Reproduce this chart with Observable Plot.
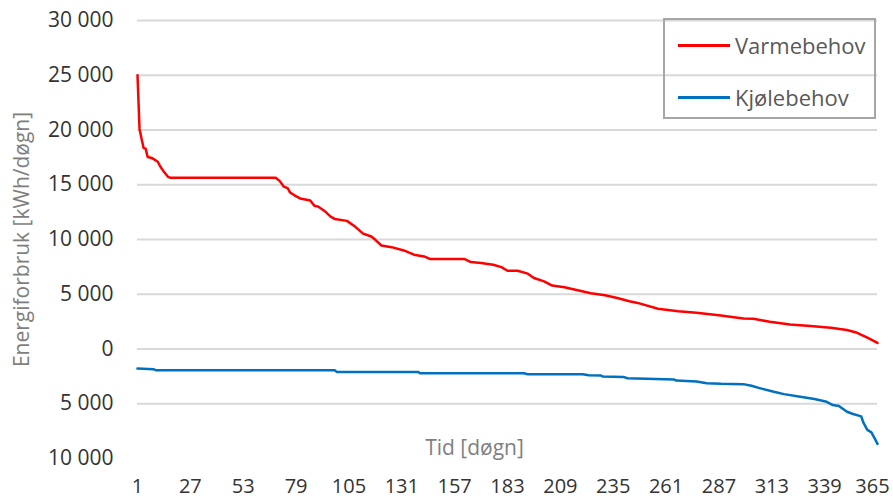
<!DOCTYPE html>
<html>
<head>
<meta charset="utf-8">
<script src="https://cdn.jsdelivr.net/npm/d3@7"></script>
<script src="https://cdn.jsdelivr.net/npm/@observablehq/plot@0.6"></script>
<style>
  html, body { margin: 0; padding: 0; background: #fff; }
  #wrap { position: relative; width: 893px; height: 499px; font-family: "Open Sans", sans-serif; overflow: hidden; }
  #legend { position: absolute; left: 663px; top: 18px; width: 213px; height: 101px;
            border: 2px solid #a6a6a6; box-sizing: border-box; }
  .item { position: absolute; left: 13px; display: flex; align-items: center; height: 30px;
          font-size: 22px; color: #595959; }
  .swatch { width: 52px; height: 3px; margin-right: 5px; }
</style>
</head>
<body>
<div id="wrap"></div>
<script>
// ---- data ----
const seriesNames = ["Varmebehov", "Kjølebehov"];
const seriesColors = ["#ff0000", "#0070c0"];

const heatDays = [1,2,3,4,5,6,8,11,12,14,16,17,69,71,73,75,76,78,81,86,88,90,93,96,98,104,108,112,116,118,121,126,132,137,142,145,162,165,170,176,180,183,188,193,196,201,205,211,217,224,231,237,243,247,257,267,276,288,299,304,312,322,332,342,350,355,360,365];
const heatValues = [25000,20100,19200,18360,18300,17540,17450,17100,16730,16180,15730,15640,15640,15330,14820,14660,14300,14060,13750,13570,13090,13000,12610,12090,11880,11700,11180,10540,10270,9970,9450,9300,9000,8610,8450,8210,8210,7940,7850,7700,7480,7150,7150,6880,6480,6180,5790,5640,5390,5090,4910,4660,4360,4210,3670,3450,3300,3060,2790,2760,2480,2240,2090,1940,1730,1480,1030,550];

const coolDays = [1,9,10,98,99,139,140,191,193,220,223,229,230,240,242,265,266,276,281,288,299,303,307,314,319,327,334,340,343,346,350,353,357,358,360,362,364,365];
const coolValues = [-1790,-1850,-1940,-1940,-2090,-2090,-2210,-2210,-2300,-2300,-2390,-2430,-2520,-2550,-2670,-2790,-2880,-2970,-3120,-3180,-3210,-3360,-3570,-3910,-4120,-4360,-4570,-4820,-5120,-5210,-5730,-5940,-6150,-6700,-7390,-7610,-8300,-8660];

const xTicks = [1,27,53,79,105,131,157,183,209,235,261,287,313,339,365];
const yTicks = [-10000,-5000,0,5000,10000,15000,20000,25000,30000];
const gridValues = [-5000,0,5000,10000,15000,20000,25000,30000];
const xTitle = "Tid [døgn]";
const yTitle = "Energiforbruk [kWh/døgn]";

// ---- build tables ----
const heat = heatDays.map((d, i) => ({day: d, value: heatValues[i]}));
const cool = coolDays.map((d, i) => ({day: d, value: coolValues[i]}));

const fmt = d => d3.format(",")(Math.abs(d)).replace(/,/g, "\u00a0");
const tickStyle = {tickSize: 0, label: null, fontSize: 20, fill: "#333"};

const chart = Plot.plot({
  width: 893,
  height: 499,
  marginLeft: 137,
  marginRight: 16,
  marginTop: 20,
  marginBottom: 41,
  style: {fontFamily: "Open Sans, sans-serif", fontSize: "21px", color: "#333", background: "#fff"},
  x: {domain: [1, 365]},
  y: {domain: [-10000, 30000]},
  marks: [
    Plot.ruleY(gridValues, {stroke: "#d9d9d9", strokeWidth: 2}),
    Plot.line(heat, {x: "day", y: "value", stroke: seriesColors[0], strokeWidth: 2.5, strokeLinejoin: "round"}),
    Plot.line(cool, {x: "day", y: "value", stroke: seriesColors[1], strokeWidth: 2.5, strokeLinejoin: "round"}),
    Plot.axisX({...tickStyle, ticks: xTicks.slice(0, -1), tickPadding: 20}),
    Plot.axisX({...tickStyle, ticks: xTicks.slice(-1), tickPadding: 20, dx: -5}),
    Plot.axisY({...tickStyle, ticks: yTicks, tickPadding: 24, tickFormat: fmt, fontSize: 21}),
    Plot.text([xTitle], {frameAnchor: "bottom", dx: -33, dy: -4, fill: "#7f7f7f", fontSize: 21}),
    Plot.text([yTitle], {frameAnchor: "left", textAnchor: "middle", rotate: -90, dx: -115, fill: "#7f7f7f", fontSize: 21})
  ]
});

const wrap = document.getElementById("wrap");
wrap.appendChild(chart);

const legend = document.createElement("div");
legend.id = "legend";
const tops = [10, 62];
seriesNames.forEach((name, i) => {
  const item = document.createElement("div");
  item.className = "item";
  item.style.top = tops[i] + "px";
  const sw = document.createElement("div");
  sw.className = "swatch";
  sw.style.background = seriesColors[i];
  const label = document.createElement("span");
  label.textContent = name;
  item.appendChild(sw);
  item.appendChild(label);
  legend.appendChild(item);
});
wrap.appendChild(legend);
</script>
</body>
</html>
